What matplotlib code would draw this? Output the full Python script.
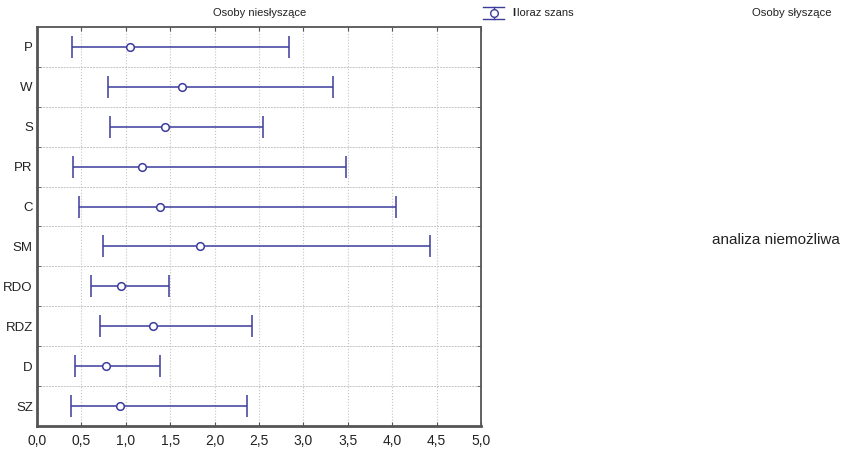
import matplotlib.pyplot as plt
from matplotlib.lines import Line2D
import numpy as np

plt.rcParams['font.family'] = ['Liberation Sans', 'DejaVu Sans']

labels = ['P', 'W', 'S', 'PR', 'C', 'SM', 'RDO', 'RDZ', 'D', 'SZ']
odds = [1.05, 1.63, 1.44, 1.18, 1.38, 1.83, 0.95, 1.31, 0.78, 0.94]
ci_low = [0.39, 0.80, 0.82, 0.40, 0.47, 0.745, 0.61, 0.71, 0.43, 0.38]
ci_high = [2.84, 3.33, 2.54, 3.48, 4.04, 4.43, 1.49, 2.42, 1.39, 2.36]

blue = '#3c3c9c'
frame = '#555555'

fig = plt.figure(figsize=(8.43, 4.55), dpi=100)
ax = fig.add_axes([0.0439, 0.0637, 0.5267, 0.877])

ypos = np.arange(len(labels))
odds = np.array(odds)
xerr = [odds - np.array(ci_low), np.array(ci_high) - odds]
ax.errorbar(odds, ypos, xerr=xerr, fmt='o', color=blue, ecolor=blue,
            elinewidth=1.1, capsize=8, capthick=1.1,
            markersize=5.5, markerfacecolor='white', markeredgecolor=blue,
            markeredgewidth=1.1, zorder=3)

ax.set_xlim(0, 5)
ax.set_ylim(len(labels) - 0.5, -0.5)
ax.set_xticks(np.arange(0, 5.01, 0.5))
ax.set_xticklabels([f'{v:.1f}'.replace('.', ',') for v in np.arange(0, 5.01, 0.5)],
                   fontsize=10, color='#222222')
ax.set_yticks(ypos)
ax.set_yticklabels(labels, fontsize=9.5, color='#222222')
ax.set_yticks(np.arange(0.5, len(labels) - 0.5, 1), minor=True)
ax.tick_params(axis='y', which='major', length=0, pad=3)
ax.tick_params(axis='y', which='minor', direction='in', length=3,
               left=True, right=True, color=frame)
ax.tick_params(axis='x', direction='in', length=3, top=True, bottom=True,
               color=frame, pad=6)

ax.grid(axis='x', which='major', color='#c4c4c4', linestyle=':', linewidth=0.8)
ax.grid(axis='y', which='minor', color='#c4c4c4', linestyle='--', linewidth=0.7,
        dashes=(2, 1))

for side in ['left', 'bottom']:
    ax.spines[side].set_linewidth(2)
    ax.spines[side].set_color(frame)
for side in ['top', 'right']:
    ax.spines[side].set_linewidth(1.3)
    ax.spines[side].set_color(frame)

fig.text(0.308, 0.972, 'Osoby niesłyszące', ha='center', va='center',
         fontsize=8, color='#222222')
fig.text(0.939, 0.972, 'Osoby słyszące', ha='center', va='center',
         fontsize=8.2, color='#222222')
fig.text(0.845, 0.472, 'analiza niemożliwa', ha='left', va='center',
         fontsize=11, color='#222222')

# legend symbol
lx, ly = 0.5855, 0.972
fig.add_artist(Line2D([lx - 0.012, lx + 0.012], [ly + 0.013, ly + 0.013],
                      color=blue, lw=1, transform=fig.transFigure))
fig.add_artist(Line2D([lx - 0.012, lx + 0.012], [ly - 0.013, ly - 0.013],
                      color=blue, lw=1, transform=fig.transFigure))
fig.add_artist(Line2D([lx, lx], [ly - 0.013, ly + 0.013],
                      color=blue, lw=1, transform=fig.transFigure))
fig.add_artist(Line2D([lx], [ly], marker='o', markersize=5.5,
                      markerfacecolor='white', markeredgecolor=blue,
                      transform=fig.transFigure))
fig.text(0.608, 0.972, 'I', ha='left', va='center', fontsize=8,
         fontweight='bold', color='#222222')
fig.text(0.613, 0.972, 'loraz szans', ha='left', va='center', fontsize=8,
         color='#222222')

fig.savefig('out.png', dpi=100)
